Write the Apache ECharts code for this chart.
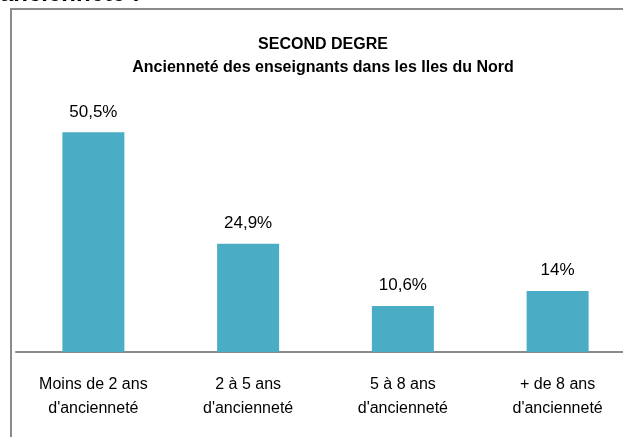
<!DOCTYPE html>
<html>
<head>
    <meta charset="UTF-8">
    <title>ECharts</title>
    <script src="https://cdn.jsdelivr.net/npm/echarts@6/dist/echarts.min.js"></script>
    <style>
        html, body { margin: 0; background: #fff; overflow: hidden; }
    </style>
</head>
<body>
<!-- le graphique d'origine est coupé à droite : zone plus large que la fenêtre -->
<div id="chart" style="width: 660px; height: 437px;"></div>

<script type="text/javascript">
    // donnees du graphique
    var categories = ["Moins de 2 ans\nd'ancienneté", "2 à 5 ans\nd'ancienneté", "5 à 8 ans\nd'ancienneté", "+ de 8 ans\nd'ancienneté"];
    var values = [50.5, 24.9, 10.6, 14];
    var titleLines = ['SECOND DEGRE', 'Ancienneté des enseignants dans les Iles du Nord'];
    var headText = 'ancienneté :';

    var font = 'Liberation Sans';
    var chart = echarts.init(document.getElementById('chart'));

    chart.setOption({
        animation: false,
        backgroundColor: '#fff',
        graphic: [
            {
                // cadre du graphique (coupé à droite et en bas)
                type: 'rect',
                shape: { x: 11, y: 9, width: 660, height: 460 },
                style: { fill: 'none', stroke: '#8a8a8a', lineWidth: 2 }
            },
            {
                type: 'text',
                x: 0,
                y: 6,
                style: {
                    text: headText,
                    fill: '#000',
                    font: 'bold 24px "' + font + '"',
                    textVerticalAlign: 'bottom'
                }
            },
            {
                type: 'text',
                x: 323,
                y: 33,
                style: {
                    text: titleLines.join('\n'),
                    fill: '#000',
                    font: 'bold 16px "' + font + '"',
                    lineHeight: 23,
                    textAlign: 'center'
                }
            }
        ],
        grid: {
            left: 16,
            width: 619,
            top: 91,
            height: 261
        },
        xAxis: {
            type: 'category',
            data: categories,
            axisLine: { lineStyle: { color: '#8a8a8a', width: 2 } },
            axisTick: { show: false },
            axisLabel: {
                color: '#000',
                fontFamily: font,
                fontSize: 16,
                lineHeight: 24,
                margin: 21,
                interval: 0
            }
        },
        yAxis: {
            type: 'value',
            min: 0,
            max: 60,
            show: false,
            splitLine: { show: false }
        },
        series: [
            {
                type: 'bar',
                data: values,
                barWidth: 62,
                itemStyle: { color: '#4BACC6' },
                label: {
                    show: true,
                    position: 'top',
                    distance: 12,
                    color: '#000',
                    fontFamily: font,
                    fontSize: 17,
                    formatter: function (p) {
                        return String(p.value).replace('.', ',') + '%';
                    }
                }
            }
        ]
    });
</script>

</body>
</html>
